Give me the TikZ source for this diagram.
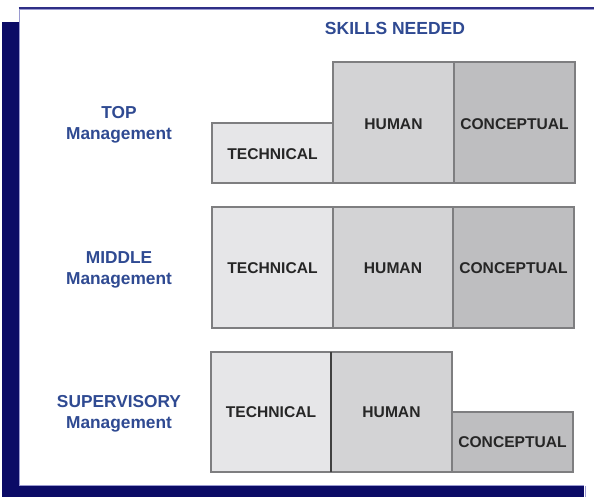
\documentclass[tikz,border=0pt]{standalone}
\usepackage{fontspec}
\setmainfont{Liberation Sans}
\begin{document}
\definecolor{navy}{HTML}{0B0B66}
\definecolor{rim}{HTML}{2E2E86}
\definecolor{rimlight}{HTML}{9A9AD0}
\definecolor{labelblue}{HTML}{2F4A92}
\definecolor{techfill}{HTML}{E6E6E8}
\definecolor{humanfill}{HTML}{D3D3D5}
\definecolor{concfill}{HTML}{BEBEC0}
\definecolor{boxline}{HTML}{7E7E80}
\definecolor{boxtext}{HTML}{262626}
\tikzset{
  x=1pt, y=-1pt,
  skillbox/.style={draw=boxline, line width=1.2pt, text=boxtext,
    font=\fontsize{15.6}{18}\selectfont\bfseries, inner sep=0pt},
  levellabel/.style={text=labelblue, align=center,
    font=\fontsize{17.3}{21}\selectfont\bfseries},
}
\begin{tikzpicture}
\useasboundingbox (0,0) rectangle (594,497);
% drop shadow behind the panel
\fill[navy] (2,22) rectangle (584,497);
% white panel
\fill[white] (19,8) rectangle (600,485);
\fill[white] (585,485) rectangle (600,497);
\draw[rimlight, line width=1pt] (19.5,485.5) -- (19.5,9) ;
\draw[rimlight, line width=1pt] (19.5,485.5) -- (584,485.5);
\draw[rimlight, line width=0.8pt] (585.5,486) -- (585.5,497);
\draw[rim, line width=2.2pt] (18.5,8) -- (600,8);
\draw[rimlight, line width=0.6pt] (19,9.8) -- (600,9.8);

% heading
\node[levellabel, font=\fontsize{17.5}{21}\selectfont\bfseries] (head) at (395,28) {SKILLS NEEDED};

% level labels
\node[levellabel] (top) at (119,124.5) {TOP\\Management};
\node[levellabel] (mid) at (119,269.5) {MIDDLE\\Management};
\node[levellabel] (sup) at (119,413.5) {SUPERVISORY\\Management};

% top management
\path[skillbox, fill=techfill] (212,123) rectangle (333,183);
\path[skillbox, fill=humanfill] (333,62) rectangle (454,183);
\path[skillbox, fill=concfill] (454,62) rectangle (575,183);
\node[skillbox, draw=none] (t1) at (272.5,154) {TECHNICAL};
\node[skillbox, draw=none] (t2) at (393.5,124) {HUMAN};
\node[skillbox, draw=none] (t3) at (514.5,124) {CONCEPTUAL};

% middle management
\path[skillbox, fill=techfill] (212,207) rectangle (333,328);
\path[skillbox, fill=humanfill] (333,207) rectangle (453,328);
\path[skillbox, fill=concfill] (453,207) rectangle (574,328);
\node[skillbox, draw=none] (m1) at (272.5,268) {TECHNICAL};
\node[skillbox, draw=none] (m2) at (393,268) {HUMAN};
\node[skillbox, draw=none] (m3) at (513.5,268) {CONCEPTUAL};

% supervisory management
\path[skillbox, fill=techfill] (211,352) rectangle (331,472);
\path[skillbox, fill=humanfill] (331,352) rectangle (452,472);
\path[skillbox, fill=concfill] (452,412) rectangle (573,472);
\draw[black!75, line width=1.4pt] (331,352) -- (331,472);
\node[skillbox, draw=none] (s1) at (271,412) {TECHNICAL};
\node[skillbox, draw=none] (s2) at (391.5,412) {HUMAN};
\node[skillbox, draw=none] (s3) at (512.5,442) {CONCEPTUAL};
\end{tikzpicture}
\end{document}
